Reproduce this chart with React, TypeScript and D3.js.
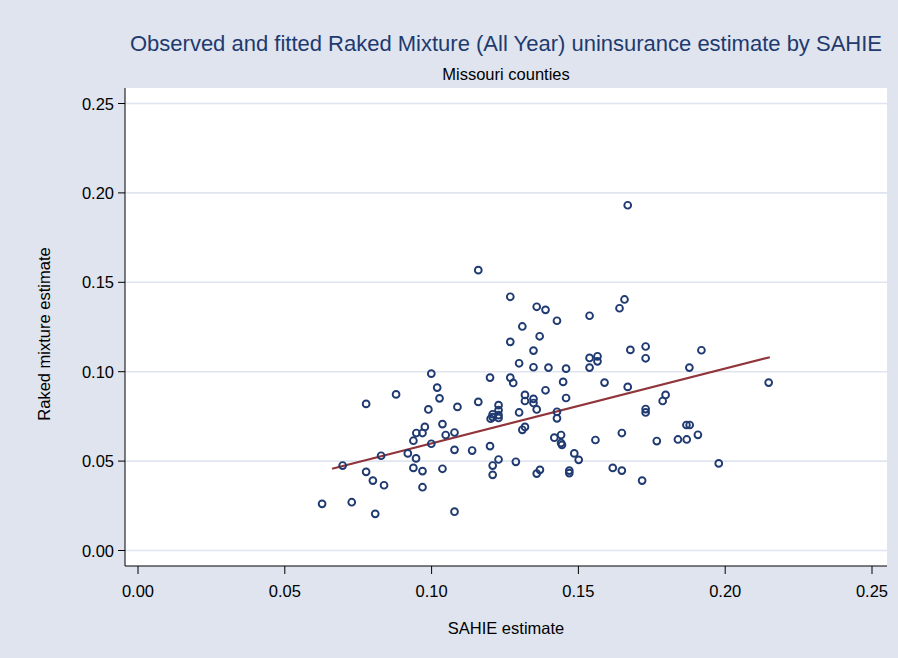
import React from "react";
import * as d3 from "d3";

// SAHIE estimate (x) and Raked mixture estimate (y), Missouri counties
const sahie = [
  0.1159, 0.1268, 0.1358, 0.1388, 0.1427, 0.1538, 0.1309, 0.1368, 0.1268, 0.1347,
  0.1298, 0.1347, 0.1398, 0.1458, 0.1538, 0.1538, 0.1565, 0.1565, 0.0999, 0.1199,
  0.1268, 0.1278, 0.1019, 0.1388, 0.1448, 0.0879, 0.1027, 0.1318, 0.1347, 0.1318,
  0.1347, 0.1458, 0.0777, 0.0989, 0.1088, 0.1159, 0.1228, 0.1228, 0.1228, 0.1228,
  0.1358, 0.1427, 0.1298, 0.1208, 0.1208, 0.1201, 0.1427, 0.1037, 0.0977, 0.1318,
  0.1309, 0.0948, 0.0969, 0.0938, 0.1048, 0.1078, 0.0999, 0.0828, 0.0697, 0.0919,
  0.0947, 0.0938, 0.0969, 0.1037, 0.1078, 0.1138, 0.1199, 0.1208, 0.1228, 0.1208,
  0.1287, 0.1358, 0.1369, 0.1418, 0.1441, 0.1441, 0.1444, 0.1486, 0.1501, 0.1469,
  0.1469, 0.1558, 0.0777, 0.0800, 0.0838, 0.0969, 0.0627, 0.0728, 0.0808, 0.1078,
  0.1668, 0.1657, 0.1640, 0.1677, 0.1729, 0.1729, 0.1919, 0.1878, 0.1589, 0.1668,
  0.2148, 0.1797, 0.1787, 0.1729, 0.1729, 0.1868, 0.1879, 0.1648, 0.1767, 0.1839,
  0.1869, 0.1907, 0.1617, 0.1648, 0.1717, 0.1978,
];
const raked = [
  0.1568, 0.1419, 0.1363, 0.1346, 0.1285, 0.1313, 0.1253, 0.1198, 0.1167, 0.1118,
  0.1047, 0.1025, 0.1023, 0.1017, 0.1077, 0.1023, 0.1086, 0.1058, 0.0989, 0.0967,
  0.0967, 0.0937, 0.0911, 0.0896, 0.0943, 0.0873, 0.0851, 0.0870, 0.0848, 0.0836,
  0.0825, 0.0853, 0.0820, 0.0789, 0.0803, 0.0831, 0.0813, 0.0785, 0.0757, 0.0741,
  0.0789, 0.0776, 0.0772, 0.0762, 0.0746, 0.0737, 0.0739, 0.0707, 0.0691, 0.0691,
  0.0675, 0.0657, 0.0657, 0.0614, 0.0646, 0.0660, 0.0597, 0.0530, 0.0475, 0.0543,
  0.0515, 0.0462, 0.0444, 0.0457, 0.0563, 0.0559, 0.0584, 0.0475, 0.0509, 0.0423,
  0.0496, 0.0430, 0.0451, 0.0631, 0.0646, 0.0601, 0.0591, 0.0543, 0.0507, 0.0447,
  0.0433, 0.0618, 0.0440, 0.0391, 0.0365, 0.0354, 0.0261, 0.0270, 0.0205, 0.0217,
  0.1931, 0.1404, 0.1355, 0.1122, 0.1141, 0.1075, 0.1120, 0.1023, 0.0939, 0.0915,
  0.0939, 0.0870, 0.0836, 0.0791, 0.0772, 0.0702, 0.0702, 0.0657, 0.0612, 0.0621,
  0.0621, 0.0647, 0.0462, 0.0447, 0.0391, 0.0487,
];

// Fitted line end points
const fitX = [0.0661, 0.2152];
const fitY = [0.0457, 0.1081];

const xTicks = [0, 0.05, 0.1, 0.15, 0.2, 0.25];
const yTicks = [0, 0.05, 0.1, 0.15, 0.2, 0.25];

const titleText = "Observed and fitted Raked Mixture (All Year) uninsurance estimate by SAHIE";
const subtitleText = "Missouri counties";
const xLabel = "SAHIE estimate";
const yLabel = "Raked mixture estimate";

export default function App() {
  const W = 898;
  const H = 658;
  const plot = { left: 125, right: 887, top: 88, bottom: 566 };
  const x = d3.scaleLinear().domain([0, 0.25]).range([138, 872]);
  const y = d3.scaleLinear().domain([0, 0.25]).range([550.5, 103.5]);
  const bg = "#dfe4ee";
  const navy = "#1f3a70";
  const maroon = "#90353b";
  const font = "'Liberation Sans', Arial, Helvetica, sans-serif";
  const fitLine = d3
    .line<number>()
    .x((d) => x(d))
    .y((_, i) => y(fitY[i]));
  const cx = (plot.left + plot.right) / 2;

  return (
    <svg
      width={W}
      height={H}
      style={{ position: "absolute", left: 0, top: 0, display: "block" }}
      fontFamily={font}
    >
      <rect x={0} y={0} width={W} height={H} fill={bg} />
      <rect
        x={plot.left}
        y={plot.top}
        width={plot.right - plot.left}
        height={plot.bottom - plot.top}
        fill="#ffffff"
      />
      {yTicks.map((t) => (
        <line
          key={"g" + t}
          x1={plot.left}
          x2={plot.right}
          y1={y(t)}
          y2={y(t)}
          stroke={bg}
          strokeWidth={1.6}
        />
      ))}
      {/* axes */}
      <line x1={plot.left} x2={plot.left} y1={plot.top} y2={plot.bottom} stroke="#000" strokeWidth={1} />
      <line x1={plot.left} x2={plot.right} y1={plot.bottom} y2={plot.bottom} stroke="#000" strokeWidth={1} />
      {yTicks.map((t) => (
        <g key={"yt" + t}>
          <line x1={plot.left - 7} x2={plot.left} y1={y(t)} y2={y(t)} stroke="#000" strokeWidth={1} />
          <text
            x={plot.left - 11}
            y={y(t)}
            textAnchor="end"
            dominantBaseline="central"
            fontSize={16.5}
            fill="#000"
          >
            {d3.format(".2f")(t)}
          </text>
        </g>
      ))}
      {xTicks.map((t) => (
        <g key={"xt" + t}>
          <line x1={x(t)} x2={x(t)} y1={plot.bottom} y2={plot.bottom + 8} stroke="#000" strokeWidth={1} />
          <text x={x(t)} y={597} textAnchor="middle" fontSize={16.5} fill="#000">
            {d3.format(".2f")(t)}
          </text>
        </g>
      ))}
      {/* fitted line */}
      <path d={fitLine(fitX) || ""} fill="none" stroke={maroon} strokeWidth={2.2} />
      {/* observed points */}
      {sahie.map((v, i) => (
        <circle
          key={"p" + i}
          cx={x(v)}
          cy={y(raked[i])}
          r={3.4}
          fill="none"
          stroke={navy}
          strokeWidth={1.9}
        />
      ))}
      {/* titles */}
      <text x={cx} y={51} textAnchor="middle" fontSize={22} fill="#1e3a6e">
        {titleText}
      </text>
      <text x={cx} y={80} textAnchor="middle" fontSize={16.5} fill="#000">
        {subtitleText}
      </text>
      <text x={cx} y={634} textAnchor="middle" fontSize={16.5} fill="#000">
        {xLabel}
      </text>
      <text
        transform={`translate(50, 334) rotate(-90)`}
        textAnchor="middle"
        fontSize={16.5}
        fill="#000"
      >
        {yLabel}
      </text>
    </svg>
  );
}
